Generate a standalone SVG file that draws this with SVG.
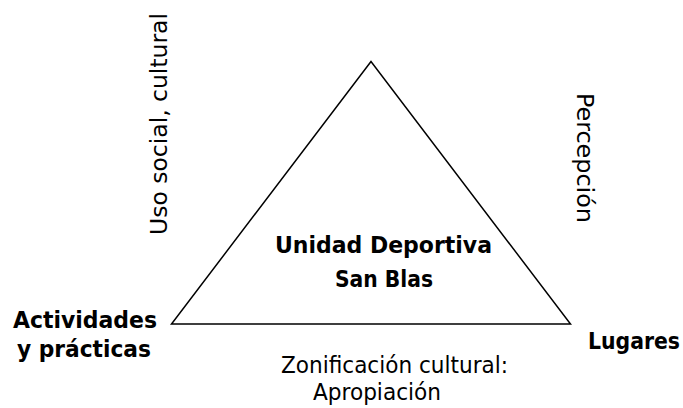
<svg xmlns="http://www.w3.org/2000/svg" width="683" height="408" viewBox="0 0 683 408">
<style>
.t{font-family:"DejaVu Sans Condensed","DejaVu Sans",sans-serif;font-size:23.5px;fill:#000}
.b{font-weight:bold}
</style>
<rect width="683" height="408" fill="#fff"/>
<g id="connectors">
<polygon points="371,61.5 171.5,324 570.5,324" fill="none" stroke="#000" stroke-width="1.5" stroke-linejoin="miter"/>
</g>
<g id="center">
<text class="t b" x="275" y="253" textLength="217" lengthAdjust="spacingAndGlyphs">Unidad Deportiva</text>
<text class="t b" x="335" y="287" textLength="98" lengthAdjust="spacingAndGlyphs">San Blas</text>
</g>
<g id="actividades">
<text class="t b" x="13" y="328" textLength="144" lengthAdjust="spacingAndGlyphs">Actividades</text>
<text class="t b" x="17" y="357" textLength="134" lengthAdjust="spacingAndGlyphs">y prácticas</text>
</g>
<g id="lugares">
<text class="t b" x="588" y="349" textLength="92" lengthAdjust="spacingAndGlyphs">Lugares</text>
</g>
<g id="uso">
<text class="t" transform="translate(167,235) rotate(-90)" textLength="222" lengthAdjust="spacingAndGlyphs">Uso social, cultural</text>
</g>
<g id="percepcion">
<text class="t" transform="translate(577,93) rotate(90)" textLength="130" lengthAdjust="spacingAndGlyphs">Percepción</text>
</g>
<g id="zonificacion">
<text class="t" x="281" y="373" textLength="227" lengthAdjust="spacingAndGlyphs">Zonificación cultural:</text>
<text class="t" x="313" y="400" textLength="128" lengthAdjust="spacingAndGlyphs">Apropiación</text>
</g>
</svg>
